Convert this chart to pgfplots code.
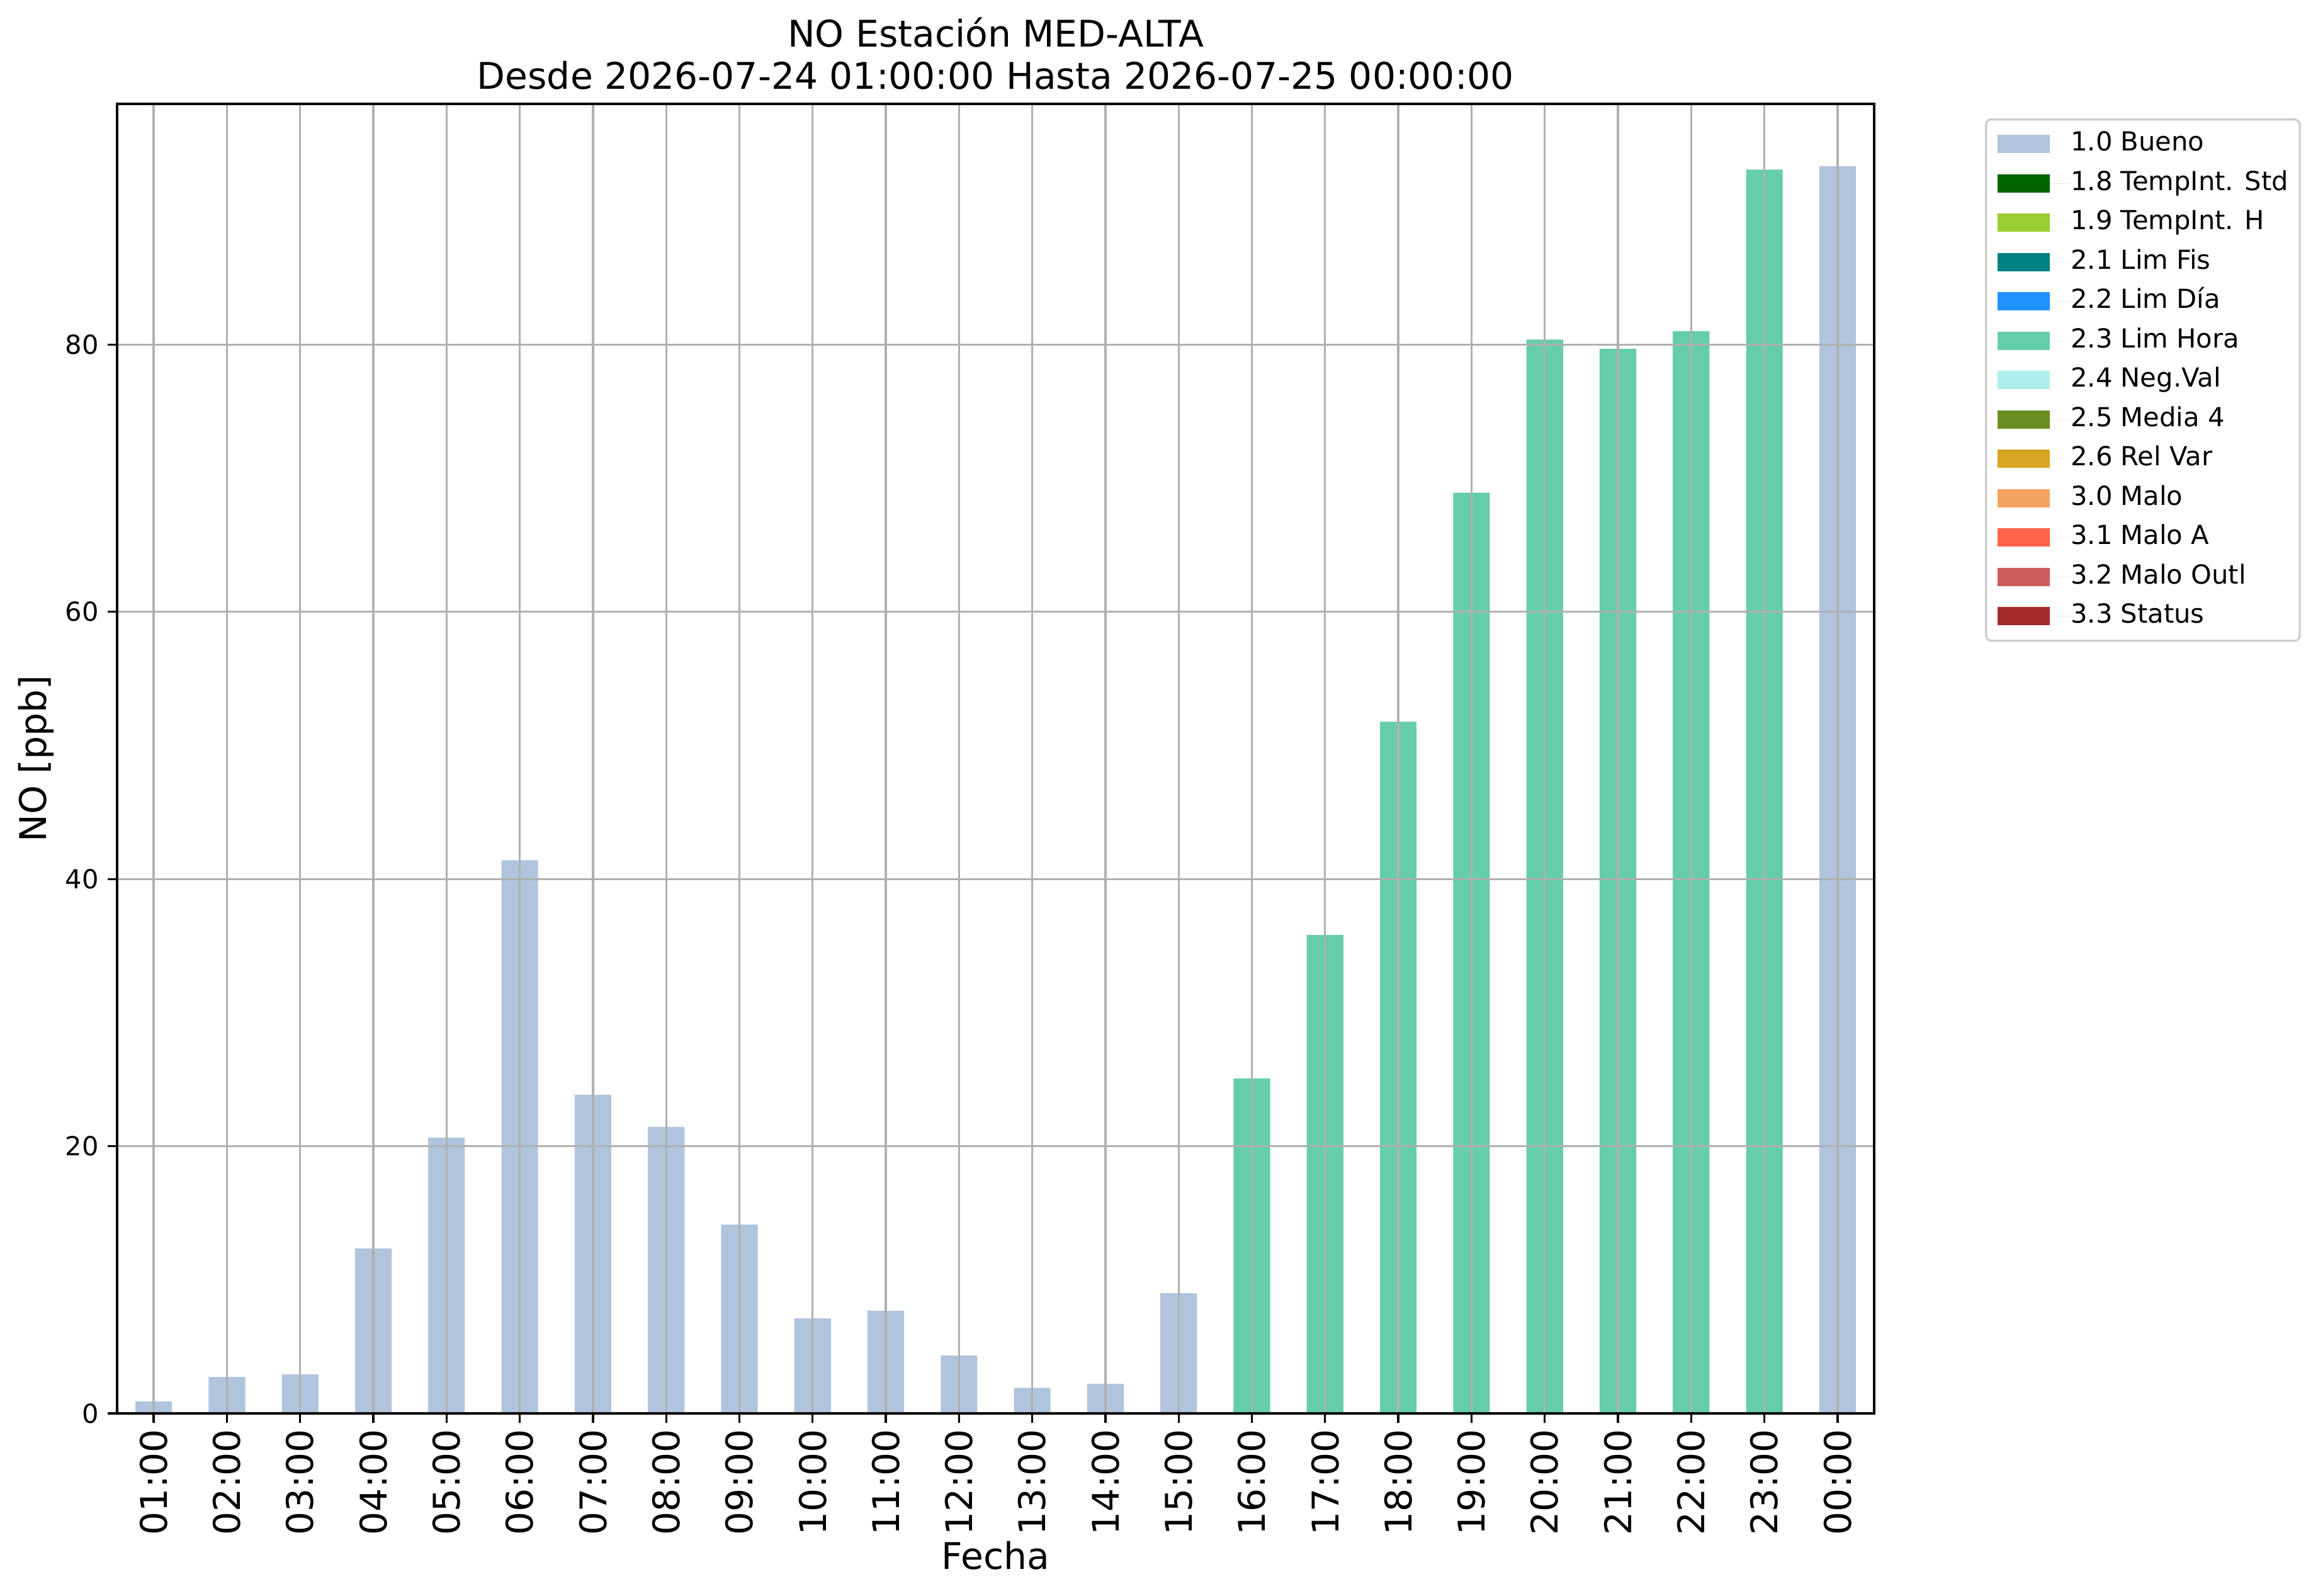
\documentclass[border=0pt]{standalone}
\usepackage{fontspec}
\setmainfont{DejaVu Sans}
\usepackage{pgfplots}
\pgfplotsset{compat=1.18}
\definecolor{c10}{HTML}{B0C4DE}
\definecolor{c18}{HTML}{006400}
\definecolor{c19}{HTML}{9ACD32}
\definecolor{c21}{HTML}{008080}
\definecolor{c22}{HTML}{1E90FF}
\definecolor{c23}{HTML}{66CDAA}
\definecolor{c24}{HTML}{AFEEEE}
\definecolor{c25}{HTML}{6B8E23}
\definecolor{c26}{HTML}{DAA520}
\definecolor{c30}{HTML}{F4A460}
\definecolor{c31}{HTML}{FF6347}
\definecolor{c32}{HTML}{CD5C5C}
\definecolor{c33}{HTML}{A52A2A}
\definecolor{gridgray}{HTML}{B0B0B0}
\definecolor{legendgray}{HTML}{CCCCCC}
\begin{document}
\begin{tikzpicture}
\path[use as bounding box] (-44.64pt,-69.36pt) rectangle (839.04pt,538.8pt);
\begin{axis}[
  at={(0pt,0pt)}, anchor=south west,
  width=669.84pt, height=499.2pt, scale only axis,
  xmin=-0.5, xmax=23.5, ymin=0, ymax=98.02,
  ybar, bar width=0.5,
  axis on top,
  xtick={0,...,23},
  xticklabels={01:00,02:00,03:00,04:00,05:00,06:00,07:00,08:00,09:00,10:00,11:00,12:00,13:00,14:00,15:00,16:00,17:00,18:00,19:00,20:00,21:00,22:00,23:00,00:00},
  ytick={0,20,40,60,80},
  xtick pos=left, ytick pos=left,
  grid=major,
  major grid style={color=gridgray, line width=0.8pt},
  axis line style={line width=0.8pt},
  tick style={black, line width=0.8pt},
  tick align=outside, major tick length=3.5pt,
  /pgf/number format/assume math mode=true,
  xticklabel shift=2.3pt,
  yticklabel shift=3.3pt,
  xticklabel style={rotate=90, anchor=east, inner sep=0pt, font=\fontsize{14}{16.8}\selectfont},
  yticklabel style={anchor=east, inner sep=0pt, font=\fontsize{10}{12}\selectfont},
  title={NO Estación MED-ALTA\\Desde 2026-07-24 01:00:00 Hasta 2026-07-25 00:00:00},
  title style={at={(axis description cs:0.5,1)}, anchor=south, align=center, inner sep=0pt, yshift=-0.7pt, font=\fontsize{14}{16.1}\selectfont},
  xlabel={Fecha},
  xlabel style={at={(axis description cs:0.5,0)}, anchor=base, yshift=-59.3pt, inner sep=0pt, font=\fontsize{14}{16.8}\selectfont},
  ylabel={NO [ppb]},
  ylabel style={at={(axis description cs:0,0.5)}, anchor=base, yshift=27.1pt, inner sep=0pt, font=\fontsize{14}{16.8}\selectfont},
  legend image code/.code={\fill[#1, sharp corners] (0pt,-3.5pt) rectangle (20pt,3.5pt); \path (0pt,0pt) -- (28pt,0pt);},
  legend cell align=left,
  legend style={at={(axis description cs:1.0631,0.9889)}, anchor=north west, draw=legendgray, line width=0.8pt, rounded corners=2pt, fill=white, inner xsep=4.3pt, inner ysep=4.75pt, row sep=5.8pt, font=\fontsize{10}{12}\selectfont, nodes={inner sep=0pt, text height=7.3pt, text depth=1.9pt}},
]
\addplot[fill=c10, draw=none, bar shift=0pt] coordinates {
(0,0.9) (1,2.73) (2,2.92) (3,12.34) (4,20.65) (5,41.4) (6,23.85) (7,21.45) (8,14.13) (9,7.12) (10,7.69) (11,4.33) (12,1.91) (13,2.22) (14,9.0) (23,93.35)};
\addlegendentry{1.0 Bueno}
\addlegendimage{fill=c18, draw=none}\addlegendentry{1.8 TempInt. Std}
\addlegendimage{fill=c19, draw=none}\addlegendentry{1.9 TempInt. H}
\addlegendimage{fill=c21, draw=none}\addlegendentry{2.1 Lim Fis}
\addlegendimage{fill=c22, draw=none}\addlegendentry{2.2 Lim Día}
\addplot[fill=c23, draw=none, bar shift=0pt] coordinates {
(15,25.08) (16,35.81) (17,51.77) (18,68.91) (19,80.38) (20,79.68) (21,81.0) (22,93.1)};
\addlegendentry{2.3 Lim Hora}
\addlegendimage{fill=c24, draw=none}\addlegendentry{2.4 Neg.Val}
\addlegendimage{fill=c25, draw=none}\addlegendentry{2.5 Media 4}
\addlegendimage{fill=c26, draw=none}\addlegendentry{2.6 Rel Var}
\addlegendimage{fill=c30, draw=none}\addlegendentry{3.0 Malo}
\addlegendimage{fill=c31, draw=none}\addlegendentry{3.1 Malo A}
\addlegendimage{fill=c32, draw=none}\addlegendentry{3.2 Malo Outl}
\addlegendimage{fill=c33, draw=none}\addlegendentry{3.3 Status}
\end{axis}
\end{tikzpicture}
\end{document}
